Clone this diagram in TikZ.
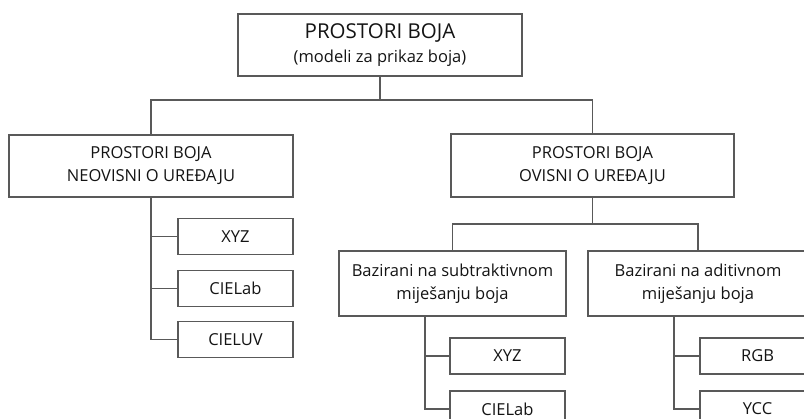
\documentclass[tikz,border=0pt]{standalone}
\usepackage{fontspec}
\setmainfont{Open Sans}
\definecolor{linegray}{gray}{0.35}
\definecolor{textgray}{gray}{0.08}
\begin{document}
\begin{tikzpicture}[x=1pt,y=-1pt,
  box/.style={draw=linegray, line width=1.3pt, fill=white, text=textgray,
    align=center, inner sep=0pt, font=\fontsize{16.5}{23}\selectfont},
  leaf/.style={box, minimum width=115, minimum height=36},
  link/.style={draw=linegray, line width=1.3pt}]
  \useasboundingbox (0,0) rectangle (804,419);
  \clip (0,0) rectangle (804,419);

  % top level
  \node[box, minimum width=284, minimum height=62] (top) at (380,45)
    {{\fontsize{20.5}{24}\selectfont PROSTORI BOJA}\\[1pt]{\fontsize{16.5}{19}\selectfont (modeli za prikaz boja)}};

  % device independent
  \node[box, minimum width=284, minimum height=62] (indep) at (151,166)
    {PROSTORI BOJA\\NEOVISNI O UREĐAJU};
  \node[leaf] (iXYZ) at (235.5,236.5) {XYZ};
  \node[leaf] (iLab) at (235.5,288.5) {CIELab};
  \node[leaf] (iLuv) at (235.5,339.5) {CIELUV};

  % device dependent
  \node[box, minimum width=283, minimum height=63] (dep) at (592.5,165.5)
    {PROSTORI BOJA\\OVISNI O UREĐAJU};
  \node[box, minimum width=227, minimum height=65] (subtr) at (452.5,283.5)
    {Bazirani na subtraktivnom\\miješanju boja};
  \node[box, minimum width=220, minimum height=65] (addit) at (698,283.5)
    {Bazirani na aditivnom\\miješanju boja};
  \node[leaf] (sXYZ) at (507.5,356) {XYZ};
  \node[leaf] (sLab) at (507.5,409) {CIELab};
  \node[leaf] (aRGB) at (757.5,356) {RGB};
  \node[leaf] (aYCC) at (757.5,409) {YCC};

  % connectors
  \coordinate (j0) at (380,100);
  \coordinate (j1) at (592.5,224);
  \draw[link] (top.south) -- (j0) -| (indep.north);
  \draw[link] (j0) -| (dep.north);
  \draw[link] (dep.south) -- (j1) -| (subtr.north);
  \draw[link] (j1) -| (addit.north);

  \draw[link] (indep.south) |- (iXYZ.west);
  \draw[link] (indep.south) |- (iLab.west);
  \draw[link] (indep.south) |- (iLuv.west);

  \draw[link] ([xshift=-27.5]subtr.south) |- (sXYZ.west);
  \draw[link] ([xshift=-27.5]subtr.south) |- (sLab.west);
  \draw[link] ([xshift=-24]addit.south) |- (aRGB.west);
  \draw[link] ([xshift=-24]addit.south) |- (aYCC.west);
\end{tikzpicture}
\end{document}
